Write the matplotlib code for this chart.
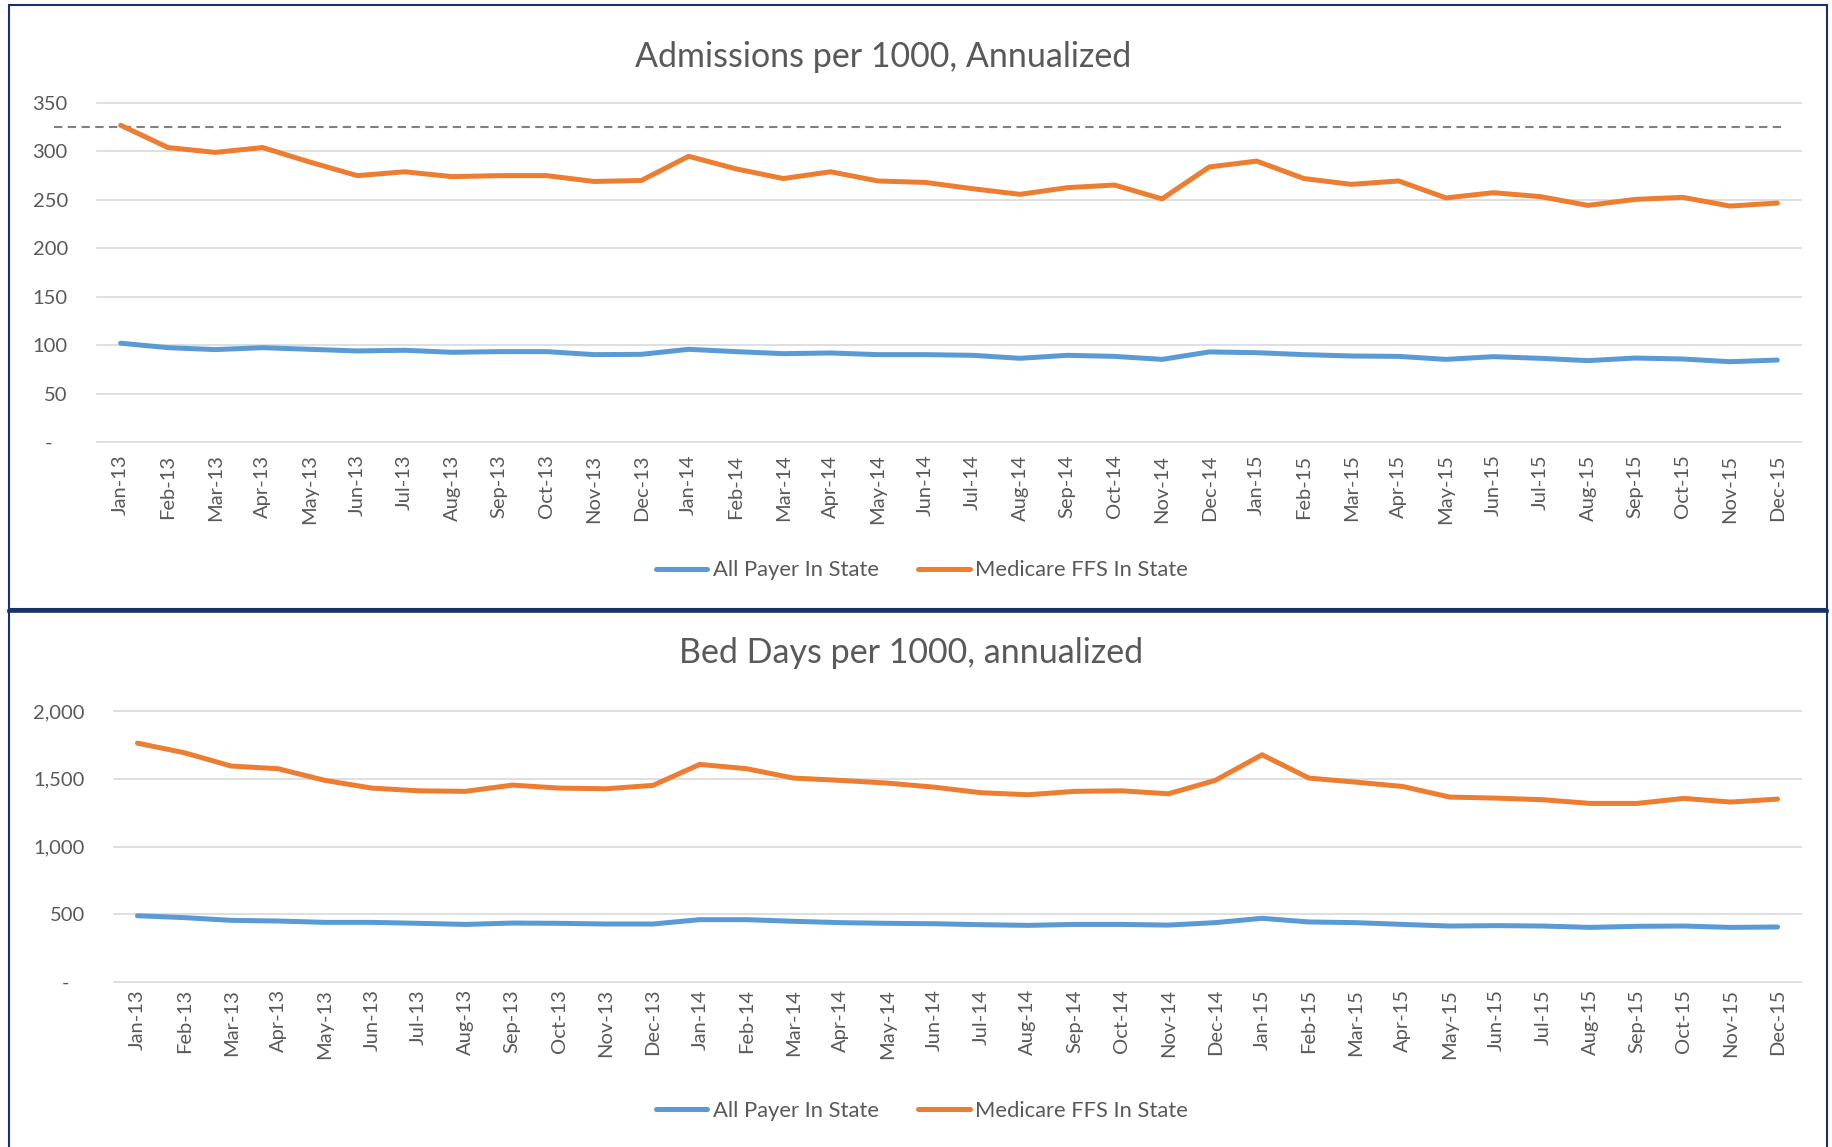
import matplotlib
matplotlib.use("Agg")
import matplotlib.pyplot as plt
import matplotlib.transforms as mtransforms
from matplotlib.lines import Line2D
from matplotlib.patches import Rectangle
from matplotlib.ticker import FuncFormatter, MultipleLocator

plt.rcParams["font.family"] = ["Lato", "DejaVu Sans"]

# --- data -----------------------------------------------------------------
month_names = ["Jan", "Feb", "Mar", "Apr", "May", "Jun",
               "Jul", "Aug", "Sep", "Oct", "Nov", "Dec"]
years = ["13", "14", "15"]
months = ["{}-{}".format(m, y) for y in years for m in month_names]

series_names = ["All Payer In State", "Medicare FFS In State"]

adm_all_payer = [102, 97.4, 95.4, 97.4, 95.7, 94, 94.7, 92.6, 93.3, 93.3, 90.2, 90.5,
                 95.7, 93.3, 91.2, 91.9, 90.2, 90.2, 89.5, 86.4, 89.5, 88.4, 85.3, 93,
                 92.2, 90.2, 88.8, 88.4, 85.3, 88.1, 86.4, 84, 86.7, 85.7, 82.9, 84.6]
adm_medicare = [327, 304, 299, 304, 289, 275, 279, 274, 275, 275, 269, 270,
                295, 282, 272, 279, 269.5, 268, 261.5, 255.7, 262.6, 265.3, 251, 284,
                290, 272, 266, 269.5, 252, 257.4, 253.3, 244.3, 250.5, 252.6, 243.6, 246.7]
adm_target = 325

bed_all_payer = [489, 475, 455, 450, 440, 440, 433, 425, 435, 433, 428, 428,
                 460, 460, 448, 438, 433, 430, 423, 418, 425, 425, 420, 438,
                 470, 443, 438, 425, 413, 416, 413, 403, 411, 413, 403, 406]
bed_medicare = [1763, 1692, 1594, 1574, 1488, 1431, 1411, 1407, 1453, 1431, 1426, 1451,
                1606, 1574, 1505, 1488, 1468, 1438, 1397, 1382, 1407, 1411, 1389, 1488,
                1677, 1505, 1475, 1443, 1365, 1357, 1345, 1318, 1318, 1355, 1328, 1350]

# --- layout ---------------------------------------------------------------
W, H = 1833, 1147
BLUE = "#5b9bd5"
ORANGE = "#ed7d31"
GREY = "#595959"
NAVY = "#17336a"


def fx(px):
    return px / W


def fy(py):
    return 1 - py / H


fig = plt.figure(figsize=(W / 100, H / 100), dpi=100)
fig.patch.set_facecolor("white")

admAx = fig.add_axes([fx(97), fy(442), fx(1801) - fx(97), (442 - 103) / H])
bedAx = fig.add_axes([fx(114), fy(982), fx(1801) - fx(114), (982 - 711) / H])


def fmt(v, pos):
    if v == 0:
        return "-   "
    return "{:,.0f}".format(v)


def draw(ax, all_payer, medicare, ymax, step, xpad):
    x = range(len(months))
    ax.plot(x, all_payer, color=BLUE, lw=3.6,
            solid_capstyle="round", solid_joinstyle="round", zorder=3)
    ax.plot(x, medicare, color=ORANGE, lw=3.6,
            solid_capstyle="round", solid_joinstyle="round", zorder=3)
    ax.set_xlim(-0.5, len(months) - 0.5)
    ax.set_ylim(0, ymax)
    ax.yaxis.set_major_locator(MultipleLocator(step))
    ax.yaxis.set_major_formatter(FuncFormatter(fmt))
    ax.set_xticks(list(x))
    ax.set_xticklabels(months, rotation=90)
    ax.grid(axis="y", color="#d9d9d9", lw=1.2)
    ax.set_axisbelow(True)
    for s in ax.spines.values():
        s.set_visible(False)
    ax.tick_params(length=0, colors=GREY, labelsize=14.5)
    ax.tick_params(axis="y", pad=21)
    ax.tick_params(axis="x", pad=xpad)
    for gl in ax.get_ygridlines():
        gl.set_clip_on(False)


draw(admAx, adm_all_payer, adm_medicare, 350, 50, 9)
draw(bedAx, bed_all_payer, bed_medicare, 2000, 500, 5)

# dashed reference line, runs past the plot edge like in the source
trans = mtransforms.blended_transform_factory(fig.transFigure, admAx.transData)
admAx.plot([fx(54), fx(1786)], [adm_target, adm_target], transform=trans,
           clip_on=False, color="#808080", lw=1.5, dashes=(4, 2.6), zorder=2)
admAx.set_xlim(-0.5, len(months) - 0.5)
admAx.set_ylim(0, 350)

# titles
fig.text(fx(883), fy(67), "Admissions per 1000, Annualized", ha="center",
         va="baseline", fontsize=24.5, color=GREY)
fig.text(fx(911), fy(663), "Bed Days per 1000, annualized", ha="center",
         va="baseline", fontsize=24.5, color=GREY)

# legends
handles = [Line2D([], [], color=BLUE, lw=3.6, solid_capstyle="round"),
           Line2D([], [], color=ORANGE, lw=3.6, solid_capstyle="round")]
for yc in (570.5, 1110.6):
    fig.legend(handles, series_names, loc="center",
               bbox_to_anchor=(fx(922), fy(yc)), ncol=2, frameon=False,
               fontsize=15.8, handlelength=2.35, handletextpad=0.25,
               columnspacing=1.8, labelcolor=GREY)

# panel borders
fig.add_artist(Rectangle((fx(9), fy(609)), fx(1827) - fx(9), (609 - 5) / H,
                         transform=fig.transFigure, fill=False,
                         ec=NAVY, lw=1.5))
fig.add_artist(Line2D([fx(9), fx(1827)], [fy(610.5), fy(610.5)],
                      transform=fig.transFigure, color=NAVY, lw=2.6))
fig.add_artist(Line2D([fx(9), fx(9)], [fy(611), 0],
                      transform=fig.transFigure, color=NAVY, lw=1.5))
fig.add_artist(Line2D([fx(1827), fx(1827)], [fy(611), 0],
                      transform=fig.transFigure, color=NAVY, lw=1.5))

fig.savefig("out.png", dpi=100)
